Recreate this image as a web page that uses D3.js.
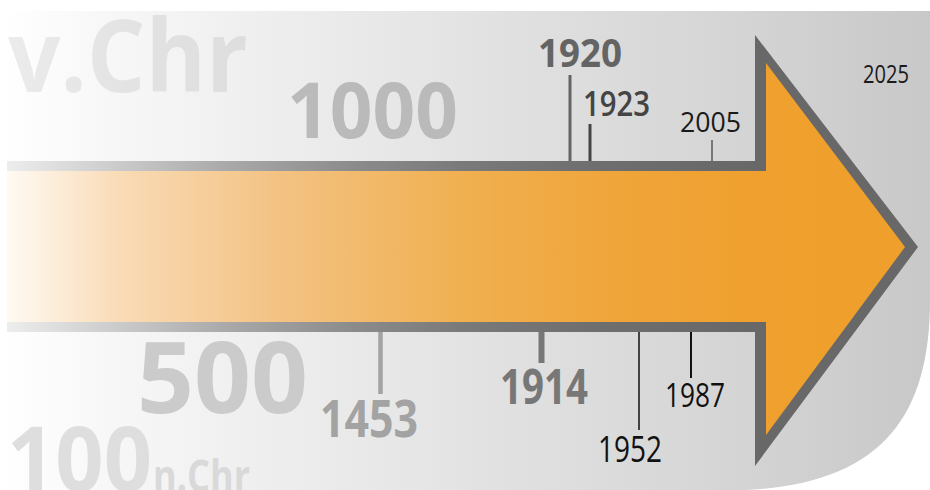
<!DOCTYPE html>
<html>
<head>
<meta charset="utf-8">
<script src="https://cdn.jsdelivr.net/npm/d3@7"></script>
<style>
  body { margin: 0; background: #fff; }
  svg { display: block; font-family: "Open Sans", "Noto Sans", sans-serif; }
</style>
</head>
<body>
<div id="chart"></div>
<script>
// timeline events
const eventYears  = [1453, 1914, 1920, 1923, 1952, 1987, 2005];
const eventLabels = ["1453", "1914", "1920", "1923", "1952", "1987", "2005"];
const eventSides  = ["below", "below", "above", "above", "below", "below", "above"];
const todayYear   = 2025;
const todayLabel  = "2025";

// big background era labels
const eraLabels = ["v.Chr", "1000", "500", "100", "n.Chr"];

// the time axis is drawn distorted (illustration), so use a polylinear scale
const axisYears = [1000, 1453, 1914, 1920, 1923, 1952, 1987, 2005, 2025];
const axisPx    = [372, 380.5, 541.5, 570, 590, 639, 691, 712, 886];

const width = 930, height = 490;
const shaftTop = 161, shaftBot = 332, border = 10;

const x = d3.scaleLinear().domain(axisYears).range(axisPx);

// per-event look (size, weight, colour, tick)
const eventStyle = {
  1453: {fs: 52, fw: 700, col: "#a3a3a3", tick: 62, tw: 4.5, dx: -11.5, tl: 98},
  1914: {fs: 49, fw: 700, col: "#777777", tick: 31, tw: 6,   dx: 2.5,   tl: 88},
  1920: {fs: 39, fw: 700, col: "#646464", tick: 86, tw: 3,   dx: 10,    tl: 84},
  1923: {fs: 34, fw: 600, col: "#444444", tick: 37, tw: 3,   dx: 26.5,  tl: 67},
  1952: {fs: 36, fw: 400, col: "#111111", tick: 98, tw: 1.5, dx: -9,    tl: 64},
  1987: {fs: 32, fw: 400, col: "#111111", tick: 46, tw: 2,   dx: 4,     tl: 60},
  2005: {fs: 28, fw: 400, col: "#1a1a1a", tick: 21, tw: 1,   dx: -1.5,  tl: 61}
};
const eraStyle = {
  "v.Chr": {x: 8,   y: 92,  fs: 101, col: "rgba(0,0,0,0.075)", tl: 240, anchor: "start"},
  "1000":  {x: 287, y: 138, fs: 77,  col: "#bababa", tl: 171, anchor: "start"},
  "500":   {x: 137, y: 413, fs: 99,  col: "#cbcbcb", tl: 171, anchor: "start"},
  "100":   {x: 7,   y: 491, fs: 89,  col: "#dedede", tl: 145, anchor: "start"},
  "n.Chr": {x: 153, y: 492, fs: 45,  col: "#d9d9d9", tl: 97,  anchor: "start"}
};

const svg = d3.select("#chart").append("svg")
  .attr("width", width)
  .attr("height", height);

const defs = svg.append("defs");
function grad(id, x1, x2, stops) {
  const g = defs.append("linearGradient").attr("id", id)
    .attr("gradientUnits", "userSpaceOnUse")
    .attr("x1", x1).attr("x2", x2).attr("y1", 0).attr("y2", 0);
  stops.forEach(s => g.append("stop").attr("offset", s[0]).attr("stop-color", s[1]));
}
grad("bg", 0, width, [[0, "#ffffff"], [0.12, "#f7f7f7"], [0.5, "#e3e3e3"], [0.8, "#d4d4d4"], [1, "#c8c8c8"]]);
grad("rim", 7, 918, [[0, "#ededed"], [0.124, "#cacaca"], [0.245, "#a8a8a8"], [0.377, "#8c8c8c"],
                     [0.497, "#7a7a7a"], [0.65, "#6e6e6e"], [0.82, "#686868"], [1, "#686868"]]);
grad("fill", 7, 918, [[0, "#fffaf3"], [0.124, "#f9dbb6"], [0.3, "#f3c283"], [0.5, "#f0b050"],
                      [0.65, "#f0a63c"], [0.82, "#efa02e"], [1, "#ef9f2a"]]);

// panel
svg.append("path")
  .attr("d", `M0,11 H${width} V300 C${width},420 878,484 745,490 L0,${height} Z`)
  .attr("fill", "url(#bg)");

// era labels
svg.append("g").selectAll("text")
  .data(eraLabels)
  .join("text")
  .attr("x", d => eraStyle[d].x)
  .attr("y", d => eraStyle[d].y)
  .attr("font-size", d => eraStyle[d].fs)
  .attr("font-weight", 700)
  .attr("fill", d => eraStyle[d].col)
  .attr("textLength", d => eraStyle[d].tl)
  .attr("lengthAdjust", "spacingAndGlyphs")
  .text(d => d);

// arrow
const headX = 755, tipX = 918, tipY = 247, headTop = 35, headBot = 466, x0 = 7;
const outer = [[x0, shaftTop], [headX, shaftTop], [headX, headTop], [tipX, tipY],
               [headX, headBot], [headX, shaftBot], [x0, shaftBot]];
const inner = [[x0, shaftTop + border], [headX + 11, shaftTop + border], [headX + 11, 63], [tipX - 13, tipY],
               [headX + 11, 435], [headX + 11, shaftBot - border], [x0, shaftBot - border]];
const line = d3.line().curve(d3.curveLinearClosed);
svg.append("path").attr("d", line(outer)).attr("fill", "url(#rim)");
svg.append("path").attr("d", line(inner)).attr("fill", "url(#fill)");

// events
const events = eventYears.map((y, i) => ({year: y, label: eventLabels[i], side: eventSides[i]}));
const ev = svg.append("g").selectAll("g").data(events).join("g");

ev.append("line")
  .attr("x1", d => x(d.year)).attr("x2", d => x(d.year))
  .attr("y1", d => d.side === "above" ? shaftTop : shaftBot)
  .attr("y2", d => d.side === "above" ? shaftTop - eventStyle[d.year].tick : shaftBot + eventStyle[d.year].tick)
  .attr("stroke", d => eventStyle[d.year].col)
  .attr("stroke-width", d => eventStyle[d.year].tw);

ev.append("text")
  .attr("x", d => x(d.year) + eventStyle[d.year].dx)
  .attr("y", d => {
    const s = eventStyle[d.year];
    return d.side === "above"
      ? shaftTop - s.tick - 8
      : shaftBot + s.tick + 6 + s.fs * 0.714;
  })
  .attr("text-anchor", "middle")
  .attr("font-size", d => eventStyle[d.year].fs)
  .attr("font-weight", d => eventStyle[d.year].fw)
  .attr("fill", d => eventStyle[d.year].col)
  .attr("textLength", d => eventStyle[d.year].tl)
  .attr("lengthAdjust", "spacingAndGlyphs")
  .text(d => d.label);

// today
svg.append("text")
  .attr("x", x(todayYear))
  .attr("y", 83)
  .attr("text-anchor", "middle")
  .attr("font-size", 25)
  .attr("fill", "#1a1a1a")
  .attr("textLength", 46)
  .attr("lengthAdjust", "spacingAndGlyphs")
  .text(todayLabel);
</script>
</body>
</html>
